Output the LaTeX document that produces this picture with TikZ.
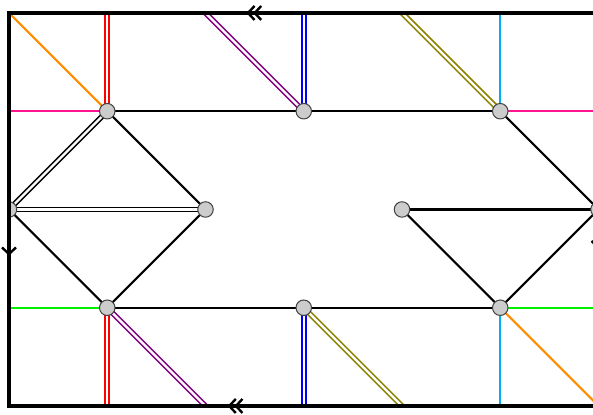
\documentclass[tikz,border=0pt]{standalone}
\definecolor{cOrange}{RGB}{255,140,0}
\definecolor{cPink}{RGB}{255,20,147}
\definecolor{cGreen}{RGB}{0,240,0}
\definecolor{cCyan}{RGB}{0,176,240}
\definecolor{cPurple}{RGB}{128,0,128}
\definecolor{cOlive}{RGB}{140,130,0}
\definecolor{cRed}{RGB}{255,0,0}
\definecolor{cBlue}{RGB}{0,0,255}
\begin{document}
\begin{tikzpicture}[x=98.25pt,y=98.25pt,
  edgeline/.style={line width=2.1pt},
  dbl/.style={line width=1.7pt, double=white, double distance=2.2pt},
  vtx/.style={circle, fill=black!20, draw=black!75, line width=1pt, minimum size=15.5pt, inner sep=0pt},
  border/.style={line width=3.6pt},
  chev/.style={line width=2.4pt}]
\useasboundingbox (-0.0916,-0.0916) rectangle (5.944,4.132);
% vertices
\coordinate (p13) at (1,3); \coordinate (p33) at (3,3); \coordinate (p53) at (5,3);
\coordinate (p02) at (0,2); \coordinate (p22) at (2,2); \coordinate (p42) at (4,2); \coordinate (p62) at (6,2);
\coordinate (p11) at (1,1); \coordinate (p31) at (3,1); \coordinate (p51) at (5,1);
% border points
\coordinate (b04) at (0,4); \coordinate (b14) at (1,4); \coordinate (b24) at (2,4); \coordinate (b34) at (3,4);
\coordinate (b44) at (4,4); \coordinate (b54) at (5,4);
\coordinate (b03) at (0,3); \coordinate (b63) at (6,3);
\coordinate (b01) at (0,1); \coordinate (b61) at (6,1);
\coordinate (b10) at (1,0); \coordinate (b20) at (2,0); \coordinate (b30) at (3,0);
\coordinate (b40) at (4,0); \coordinate (b50) at (5,0); \coordinate (b60) at (6,0);
\begin{scope}
\clip (0,0) rectangle (6,4);
% top band
\draw[edgeline, cOrange] (b04) -- (p13);
\draw[edgeline, cPink] (b03) -- (p13);
\draw[dbl, cRed] (p13) -- (b14);
\draw[dbl, cPurple] (b24) -- (p33);
\draw[dbl, cBlue] (p33) -- (b34);
\draw[dbl, cOlive] (b44) -- (p53);
\draw[edgeline, cCyan] (p53) -- (b54);
\draw[edgeline, cPink] (p53) -- (b63);
\draw[edgeline] (p13) -- (p33) -- (p53);
% middle
\draw[dbl, black] (p13) -- (p02);
\draw[dbl, black] (p02) -- (p22);
\draw[edgeline] (p13) -- (p22) -- (p11) -- (p02);
\draw[edgeline] (p42) -- (p62);
\draw[edgeline] (p53) -- (p62) -- (p51) -- (p42);
% bottom band
\draw[edgeline, cGreen] (b01) -- (p11);
\draw[edgeline, cGreen] (p51) -- (b61);
\draw[edgeline] (p11) -- (p31) -- (p51);
\draw[dbl, cRed] (p11) -- (b10);
\draw[dbl, cPurple] (p11) -- (b20);
\draw[dbl, cBlue] (p31) -- (b30);
\draw[dbl, cOlive] (p31) -- (b40);
\draw[edgeline, cCyan] (p51) -- (b50);
\draw[edgeline, cOrange] (p51) -- (b60);
% vertex nodes
\foreach \p in {13,33,53,02,22,42,62,11,31,51}
  \node[vtx] (v\p) at (p\p) {};
\end{scope}
% border
\draw[border] (0,0) rectangle (6,4);
% identification marks
\draw[chev] (2.433,4) ++(6.5pt,7pt) -- ++(-6.5pt,-7pt) -- ++(6.5pt,-7pt);
\draw[chev] (2.501,4) ++(6.5pt,7pt) -- ++(-6.5pt,-7pt) -- ++(6.5pt,-7pt);
\draw[chev] (2.242,0) ++(6.5pt,7pt) -- ++(-6.5pt,-7pt) -- ++(6.5pt,-7pt);
\draw[chev] (2.310,0) ++(6.5pt,7pt) -- ++(-6.5pt,-7pt) -- ++(6.5pt,-7pt);
\draw[chev] (0,1.547) ++(-7pt,6.5pt) -- ++(7pt,-6.5pt) -- ++(7pt,6.5pt);
\draw[chev] (6,1.613) ++(-7pt,6.5pt) -- ++(7pt,-6.5pt) -- ++(7pt,6.5pt);
\end{tikzpicture}
\end{document}
